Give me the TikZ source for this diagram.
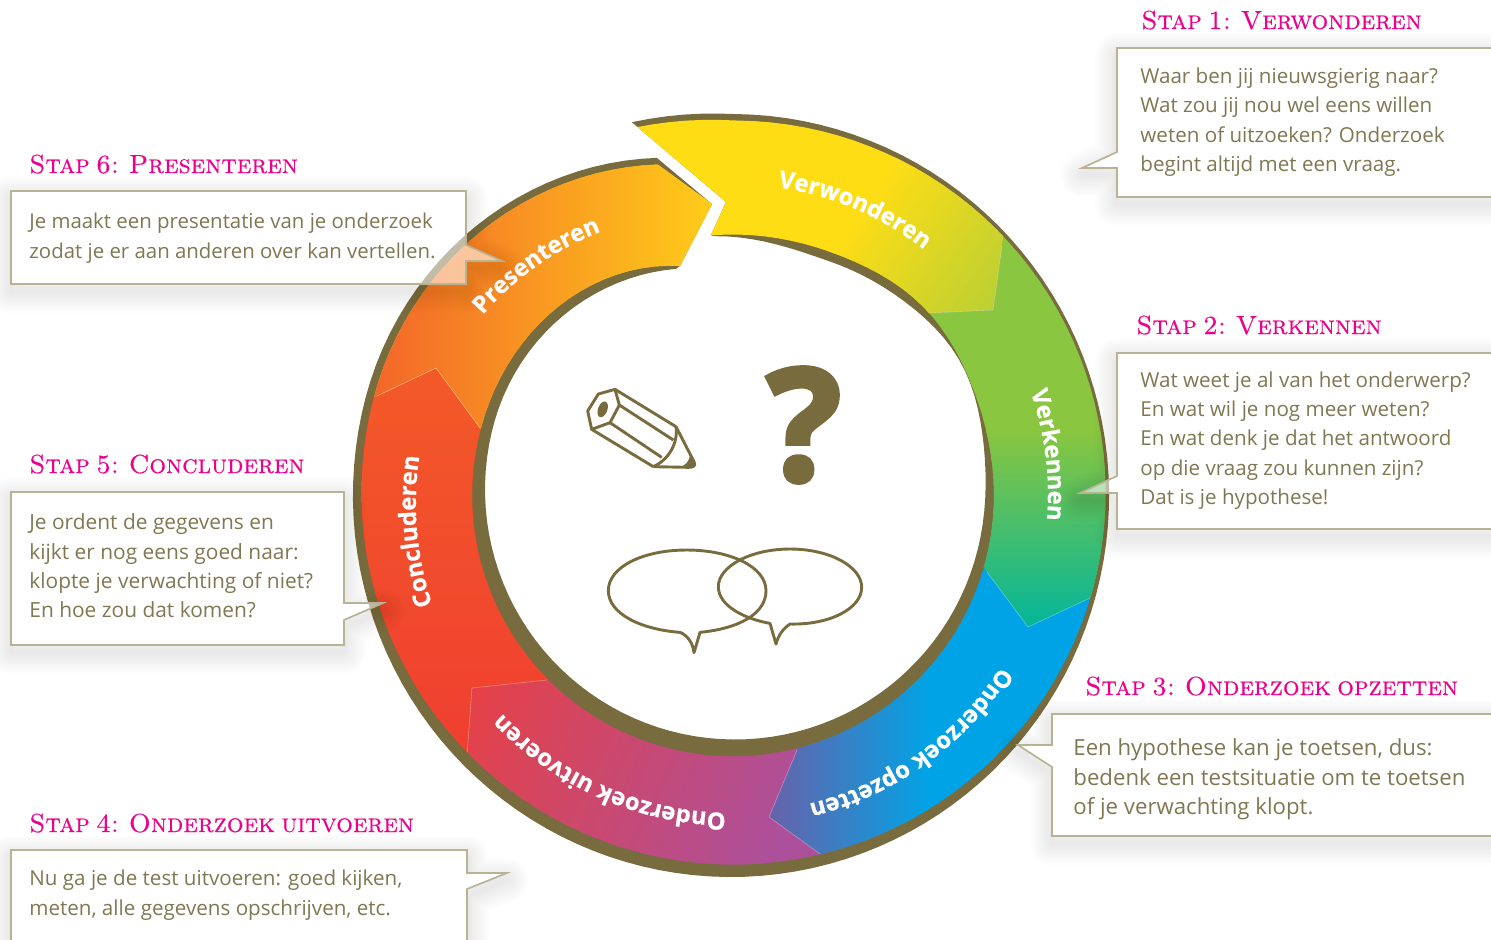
\documentclass[tikz,border=0pt]{standalone}
\usepackage{fontspec}
\usetikzlibrary{calc, decorations.text}
\newfontfamily\bodyfont{Open Sans}
\newfontfamily\kopfont{lmromancaps10-regular.otf}[FakeBold=.5, WordSpace=.65]
\newfontfamily\vraagfont{Open Sans}[BoldFeatures={FakeBold=3}]
\newfontfamily\ringfamily{Open Sans}[BoldFeatures={FakeBold=.5}]
\definecolor{ringolive}{RGB}{120,108,62}
\definecolor{boxline}{RGB}{185,179,150}
\definecolor{bodytext}{RGB}{128,120,82}
\definecolor{stappink}{RGB}{236,0,140}

\newcommand{\ringfont}{\ringfamily\bfseries\fontsize{11.9}{14}\selectfont\color{white}}

% outline of the whole band, once for the olive rim and once for the colours
\newcommand{\bandolive}{plot[domain=-105:257.5,samples=140] ({731+.995*ko(\x)*cos(\x)},{495.5+1.004*ko(\x)*sin(\x)})
    -- (712,204) -- (680,266)
    -- plot[domain=255:-95,samples=120] ({735+kh(\x)*cos(\x)},{489.5+kh(\x)*sin(\x)})
    -- (711,235) -- (726,202) -- cycle}
\newcommand{\bandcolor}{plot[domain=-105:257,samples=140] ({733.5+ro(\x)*cos(\x)},{492.5+ro(\x)*sin(\x)})
    -- (712,204) -- (680,266)
    -- plot[domain=257:-95,samples=120] ({733+ri(\x)*cos(\x)},{495.5+ri(\x)*sin(\x)})
    -- (726,202) -- cycle}

% one arrow of the band: from head #1 to head #2, base colour #3, shading #4 on rectangle #5
\newcommand{\ringpart}[5]{
    \begin{scope}
        \clip \bandcolor;
        \clip ($(tip#1)!4!(out#1)$) -- (tip#1) -- ($(tip#1)!2!(in#1)$)
            -- ($(tip#2)!2!(in#2)$) -- (tip#2) -- ($(tip#2)!4!(out#2)$) -- cycle;
        \fill[#3] (-100,-100) rectangle (1600,1100);
        \shade[#4] #5;
    \end{scope}
}

% label on the band: text, start angle, start radius, end angle, end radius
\newcommand{\ringlabel}[5]{
    \path[decorate, decoration={text along path, text align=center, text={|\ringfont|#1}}]
        plot[domain=#2:#4, samples=30] ({733+(#3+(#5-#3)*(\x-#2)/(#4-#2))*cos(\x)},{495+(#3+(#5-#3)*(\x-#2)/(#4-#2))*sin(\x)});
}

% box with pointer and its soft shadow
\newcommand{\calloutbox}[1]{
    \begin{scope}[even odd rule]
        \clip (-60,-60) rectangle (1560,1010) #1;
        \foreach \w in {4,8,...,44}
            \draw[black, opacity=.008, line width=\w*.5pt, line join=round, shift={(0,7)}] #1;
    \end{scope}
    \draw[callout] #1;
}

\begin{document}
\begin{tikzpicture}[
        x=.5pt, y=-.5pt,
        declare function={
            ro(\t)=372+.4*max(-90-\t,0)-.0092*max(\t-195,0)^2;
            ri(\t)=261+7*exp(0-((\t+45)/18)^2)-.107*(max(\t-195,0)/10)^3;
            ko(\t)=380+.33*max(-90-\t,0)-.0091*max(\t-195,0)^2;
            kh(\t)=250+9*exp(0-((\t+30)/18)^2)-4*exp(0-((\t+75)/15)^2)+.2*max(-70-\t,0)-.006*max(\t-195,0)^2;
        },
        callout/.style={fill=white, fill opacity=.55, draw=boxline, line width=.85pt, line join=miter},
        stapkop/.style={anchor=base west, inner sep=0pt, text=stappink, font=\kopfont\fontsize{13.1}{15}\selectfont},
        staptekst/.style={anchor=west, inner sep=0pt, align=left, text=bodytext, font=\bodyfont\fontsize{10.3}{14.65}\selectfont},
        icon/.style={draw=ringolive, line width=1.45pt, line join=round}
    ]
    \useasboundingbox (0,0) rectangle (1491,939);
    \clip (0,0) rectangle (1491,939);

    % heads of the arrows
    \coordinate (tipz) at (726,202); \coordinate (outz) at (635,125); \coordinate (inz) at (711,235);
    \coordinate (tipa) at (993,310); \coordinate (outa) at (1002,246); \coordinate (ina) at (930,313);
    \coordinate (tipb) at (1028,627); \coordinate (outb) at (1092,597); \coordinate (inb) at (987,572);
    \coordinate (tipc) at (769,817); \coordinate (outc) at (823,856); \coordinate (inc) at (797,750);
    \coordinate (tipd) at (472,688); \coordinate (outd) at (467,755); \coordinate (ind) at (547,680);
    \coordinate (tipe) at (436,368); \coordinate (oute) at (377,396); \coordinate (ine) at (480,428);
    \coordinate (tipf) at (712,204); \coordinate (outf) at (657,163); \coordinate (inf) at (680,266);

    \fill[ringolive] \bandolive;

    \ringpart{z}{a}{fill={rgb,255:red,255;green,221;blue,21}}
        {transform canvas={rotate around={-35:(900,270)}}, left color={rgb,255:red,255;green,221;blue,21}, right color={rgb,255:red,185;green,207;blue,52}}
        {(830,-300) rectangle (1005,800)}
    \ringpart{a}{b}{fill={rgb,255:red,138;green,198;blue,63}}
        {top color={rgb,255:red,138;green,198;blue,63}, bottom color={rgb,255:red,0;green,182;blue,156}}
        {(900,430) rectangle (1150,630)}
    \ringpart{b}{c}{fill={rgb,255:red,0;green,164;blue,230}}
        {left color={rgb,255:red,106;green,96;blue,168}, right color={rgb,255:red,0;green,164;blue,230}}
        {(765,600) rectangle (930,900)}
    \ringpart{c}{d}{fill={rgb,255:red,172;green,80;blue,155}}
        {transform canvas={rotate around={-25:(630,780)}}, left color={rgb,255:red,230;green,65;blue,70}, right color={rgb,255:red,172;green,80;blue,155}}
        {(445,300) rectangle (790,1250)}
    \ringpart{d}{e}{fill={rgb,255:red,240;green,65;blue,48}}
        {top color={rgb,255:red,243;green,90;blue,40}, bottom color={rgb,255:red,240;green,65;blue,48}}
        {(340,360) rectangle (600,720)}
    \ringpart{e}{f}{fill={rgb,255:red,255;green,205;blue,25}}
        {left color={rgb,255:red,243;green,101;blue,42}, right color={rgb,255:red,255;green,205;blue,25}}
        {(370,100) rectangle (715,500)}

    \begin{scope}
        \clip \bandcolor;
        \foreach \n in {a,b,c,d,e}
            \draw[white, opacity=.35, line width=.3pt] (out\n) -- (tip\n) -- (in\n);
    \end{scope}

    \ringlabel{Verwonderen}{-80.8}{311}{-53}{311}
    \ringlabel{Verkennen}{-19}{315}{4.5}{315}
    \ringlabel{Onderzoek opzetten}{33.8}{318}{75.1}{318}
    \ringlabel{Onderzoek uitvoeren}{92}{318}{135.9}{318}
    \ringlabel{Concluderen}{160}{320}{187}{316}
    \ringlabel{Presenteren}{216.4}{308}{242.7}{295}

    % pencil
    \begin{scope}[shift={(560,350)}, x=.16667pt, y=-.16667pt]
        \draw[icon] (115,132) -- (165,118) -- (178,165) -- (150,218) -- (95,238) -- (83,183) -- cycle;
        \draw[icon] (165,118) -- (348,230) (178,165) -- (340,270) (150,218) -- (305,322) (95,238) -- (280,350);
        \draw[icon] (348,230) -- (402,335) .. controls (408,348) and (400,352) .. (385,352) -- (280,350);
        \draw[icon] (348,230) .. controls (355,280) and (325,330) .. (280,350);
        \fill[ringolive] (362,350) .. controls (378,345) and (385,335) .. (390,318) -- (403,338) .. controls (408,348) and (400,352) .. (385,352) -- cycle;
        \fill[ringolive, rotate around={-20:(128,178)}] (128,178) ellipse (14 and 25);
    \end{scope}

    % speech bubbles
    \begin{scope}[shift={(560,350)}, x=.16667pt, y=-.16667pt]
        \draw[icon] (420,847) .. controls (540,835) and (618,790) .. (618,722)
            .. controls (618,650) and (510,600) .. (380,600)
            .. controls (250,600) and (145,650) .. (145,722)
            .. controls (145,790) and (240,838) .. (360,847)
            .. controls (380,855) and (398,875) .. (402,908) -- cycle;
        \draw[icon] (630,820) .. controls (560,808) and (475,770) .. (475,710)
            .. controls (475,650) and (570,597) .. (690,597)
            .. controls (810,597) and (905,650) .. (905,712)
            .. controls (905,775) and (810,825) .. (690,822)
            .. controls (670,835) and (655,855) .. (648,882) -- cycle;
    \end{scope}

    \node[inner sep=0pt, text=ringolive, font=\vraagfont\bfseries\fontsize{78}{78}\selectfont] (vraagteken) at (804,425) {?};

    % boxes
    \calloutbox{(1117,48) -- (1520,48) -- (1520,197) -- (1117,197) -- (1117,168) -- (1082,168) -- (1117,152) -- cycle}
    \calloutbox{(1117,353) -- (1520,353) -- (1520,529) -- (1117,529) -- (1117,493) -- (1080,493) -- (1117,476) -- cycle}
    \calloutbox{(1052,714) -- (1520,714) -- (1520,836) -- (1052,836) -- (1052,767) -- (1018,745) -- (1052,745) -- cycle}
    \calloutbox{(11,850) -- (467,850) -- (467,873) -- (507,873) -- (467,889) -- (467,980) -- (11,980) -- cycle}
    \calloutbox{(11,492) -- (344,492) -- (344,603) -- (383,603) -- (344,620) -- (344,645) -- (11,645) -- cycle}
    \calloutbox{(11,191) -- (466,191) -- (466,245) -- (502,261) -- (466,261) -- (466,284) -- (11,284) -- cycle}

    \node[stapkop] (kopa) at (1141,29) {Stap 1: Verwonderen};
    \node[stapkop] (kopb) at (1136,334) {Stap 2: Verkennen};
    \node[stapkop] (kopc) at (1085,695) {Stap 3: Onderzoek opzetten};
    \node[stapkop] (kopd) at (29,832) {Stap 4: Onderzoek uitvoeren};
    \node[stapkop] (kope) at (29,473) {Stap 5: Concluderen};
    \node[stapkop] (kopf) at (29,173) {Stap 6: Presenteren};

    \node[staptekst] (tekst a) at (1140,122) {Waar ben jij nieuwsgierig naar?\\Wat zou jij nou wel eens willen\\weten of uitzoeken? Onderzoek\\begint altijd met een vraag.};
    \node[staptekst] (tekst b) at (1140,440.5) {Wat weet je al van het onderwerp?\\En wat wil je nog meer weten?\\En wat denk je dat het antwoord\\op die vraag zou kunnen zijn?\\Dat is je hypothese!};
    \node[staptekst, font=\bodyfont\fontsize{11.1}{14.65}\selectfont] (tekst c) at (1073,779.5) {Een hypothese kan je toetsen, dus:\\bedenk een testsituatie om te toetsen\\of je verwachting klopt.};
    \node[staptekst] (tekst d) at (29,895) {Nu ga je de test uitvoeren: goed kijken,\\meten, alle gegevens opschrijven, etc.};
    \node[staptekst, font=\bodyfont\fontsize{10.45}{14.65}\selectfont] (tekst e) at (29,566) {Je ordent de gegevens en\\kijkt er nog eens goed naar:\\klopte je verwachting of niet?\\En hoe zou dat komen?};
    \node[staptekst, font=\bodyfont\fontsize{10.2}{14.9}\selectfont] (tekst f) at (29,238) {Je maakt een presentatie van je onderzoek\\zodat je er aan anderen over kan vertellen.};
\end{tikzpicture}
\end{document}
